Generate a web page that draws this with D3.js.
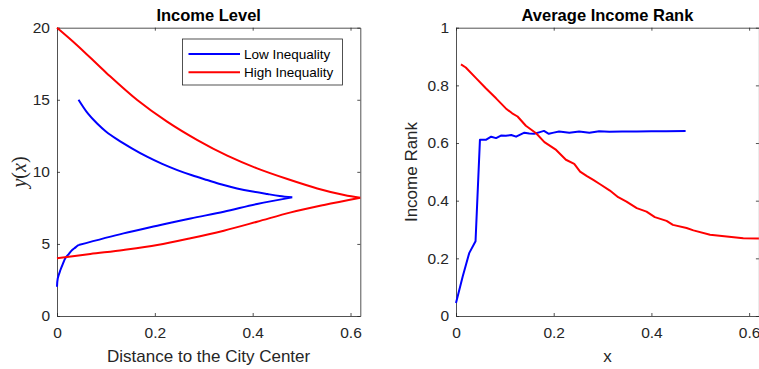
<!doctype html>
<html>
<head>
<meta charset="utf-8"/>
<script src="https://cdnjs.cloudflare.com/ajax/libs/d3/7.8.5/d3.min.js"></script>
<style>
  body { margin: 0; background: #fff; }
  svg { display: block; font-family: "Liberation Sans", Arial, Helvetica, sans-serif; }
  .axis text { fill: #262626; font-size: 15.5px; }
  .axis path, .axis line { stroke: #262626; stroke-width: 0.8; }
</style>
</head>
<body>
<svg id="chart" width="759" height="369"></svg>
<script>
// ---- data ----
var xTicks = [0, 0.2, 0.4, 0.6];
var levelTicks = [0, 5, 10, 15, 20];
var rankTicks = [0, 0.2, 0.4, 0.6, 0.8, 1];
var seriesNames = ["Low Inequality", "High Inequality"];
var seriesColors = ["#0000ff", "#ff0000"];

// income level: x = distance, y = income (path order)
var lowLevelX = [0, 0.0015, 0.007, 0.012, 0.017, 0.024, 0.031, 0.038, 0.044, 0.136, 0.205, 0.273, 0.341, 0.409, 0.481,
                 0.455, 0.43, 0.4, 0.368, 0.337, 0.307, 0.276, 0.246, 0.215, 0.184, 0.153, 0.123, 0.1, 0.082, 0.063, 0.044];
var lowLevelY = [2.03, 2.6, 3.19, 3.62, 4.0, 4.3, 4.58, 4.76, 4.92, 5.73, 6.26, 6.77, 7.23, 7.77, 8.23,
                 8.33, 8.46, 8.63, 8.85, 9.12, 9.43, 9.76, 10.12, 10.55, 11.05, 11.63, 12.25, 12.8, 13.35, 14.05, 15.0];
var lowLevelKinks = [8, 14];   // indices where the curve has a corner
var highLevelX = [0, 0.068, 0.136, 0.205, 0.273, 0.341, 0.409, 0.478, 0.546, 0.62,
                  0.587, 0.532, 0.471, 0.409, 0.348, 0.287, 0.225, 0.164, 0.102, 0.041, 0];
var highLevelY = [4.0, 4.3, 4.58, 4.92, 5.39, 5.92, 6.54, 7.19, 7.7, 8.2,
                  8.39, 8.85, 9.5, 10.24, 11.12, 12.2, 13.48, 14.98, 16.83, 18.79, 20];
var highLevelKinks = [9];

// average income rank
var lowRankX = [0, 0.0137, 0.027, 0.040, 0.049, 0.061, 0.072, 0.082, 0.092, 0.102, 0.113, 0.123, 0.14, 0.15, 0.16,
                0.17, 0.18, 0.19, 0.2, 0.211, 0.232, 0.252, 0.273, 0.293, 0.314, 0.34, 0.37, 0.4, 0.43, 0.47];
var lowRankY = [0.045, 0.137, 0.218, 0.259, 0.611, 0.611, 0.622, 0.617, 0.626, 0.625, 0.628, 0.622, 0.636, 0.633, 0.632,
                0.637, 0.642, 0.632, 0.636, 0.64, 0.636, 0.64, 0.636, 0.641, 0.639, 0.64, 0.64, 0.641, 0.641, 0.642];
var highRankX = [0.0102, 0.02, 0.041, 0.061, 0.082, 0.102, 0.115, 0.126, 0.143, 0.164, 0.181, 0.205, 0.225, 0.242, 0.254,
                 0.268, 0.281, 0.295, 0.315, 0.332, 0.349, 0.37, 0.39, 0.407, 0.431, 0.444, 0.472, 0.486, 0.52, 0.554, 0.588, 0.62];
var highRankY = [0.873, 0.862, 0.825, 0.79, 0.755, 0.72, 0.703, 0.692, 0.66, 0.634, 0.603, 0.576, 0.542, 0.528, 0.501,
                 0.485, 0.472, 0.457, 0.435, 0.412, 0.397, 0.374, 0.362, 0.343, 0.33, 0.316, 0.305, 0.297, 0.282, 0.276, 0.27, 0.269];

var svg = d3.select("#chart");
svg.append("rect").attr("width", 759).attr("height", 369).attr("fill", "#fff");

function zip(xs, ys) { return xs.map(function(v, i) { return [v, ys[i]]; }); }

// split a point list at corner indices so each piece can be smoothed separately
function pieces(pts, kinks) {
  var cuts = [0].concat(kinks || [], [pts.length - 1]), out = [];
  for (var i = 0; i < cuts.length - 1; i++) out.push(pts.slice(cuts[i], cuts[i + 1] + 1));
  return out;
}

function panel(opt) {
  var x = d3.scaleLinear().domain([0, 0.62]).range([opt.left, opt.right]);
  var y = d3.scaleLinear().domain(opt.yDomain).range([316, 27.7]);
  var g = svg.append("g");

  g.append("g").attr("class", "axis").attr("transform", "translate(0,316)")
    .call(d3.axisBottom(x).tickValues(xTicks).tickSize(-3).tickSizeOuter(0).tickPadding(11).tickFormat(d3.format("")));
  g.append("g").attr("class", "axis").attr("transform", "translate(0,27.7)")
    .call(d3.axisTop(x).tickValues(xTicks).tickSize(-3).tickSizeOuter(0).tickFormat(""));
  g.append("g").attr("class", "axis").attr("transform", "translate(" + opt.left + ",0)")
    .call(d3.axisLeft(y).tickValues(opt.yTicks).tickSize(-3).tickSizeOuter(0).tickPadding(7).tickFormat(d3.format("")));
  g.append("g").attr("class", "axis").attr("transform", "translate(" + opt.right + ",0)")
    .call(d3.axisRight(y).tickValues(opt.yTicks).tickSize(-3).tickSizeOuter(0).tickFormat(""));

  var line = d3.line().curve(opt.smooth ? d3.curveCatmullRom.alpha(0.5) : d3.curveLinear)
    .x(function(d) { return x(d[0]); }).y(function(d) { return y(d[1]); });
  opt.series.forEach(function(s, i) {
    var d = pieces(s, opt.kinks ? opt.kinks[i] : null).map(function(p) { return line(p); }).join("");
    g.append("path").attr("d", d)
      .attr("fill", "none").attr("stroke", seriesColors[i]).attr("stroke-width", 2)
      .attr("stroke-linejoin", "round");
  });

  var cx = (opt.left + opt.right) / 2;
  g.append("text").attr("x", cx).attr("y", 20.5).attr("text-anchor", "middle")
    .attr("font-weight", "bold").attr("font-size", "16.5px").attr("fill", "#000").text(opt.title);
  g.append("text").attr("x", cx).attr("y", 362).attr("text-anchor", "middle")
    .attr("font-size", "17px").attr("fill", "#262626").text(opt.xLabel);
  return { x: x, y: y, g: g };
}

var left = panel({
  left: 57, right: 360.3, yDomain: [0, 20], yTicks: levelTicks,
  title: "Income Level", xLabel: "Distance to the City Center", smooth: true,
  series: [zip(lowLevelX, lowLevelY), zip(highLevelX, highLevelY)],
  kinks: [lowLevelKinks, highLevelKinks]
});
var right = panel({
  left: 456, right: 758.9, yDomain: [0, 1], yTicks: rankTicks,
  title: "Average Income Rank", xLabel: "x",
  series: [zip(lowRankX, lowRankY), zip(highRankX, highRankY)]
});

// y labels
var yl = svg.append("text").attr("transform", "translate(26,172) rotate(-90)")
  .attr("text-anchor", "middle").attr("font-family", "'Liberation Serif', 'Times New Roman', serif")
  .attr("font-size", "20px").attr("fill", "#262626");
yl.append("tspan").attr("font-style", "italic").text("y");
yl.append("tspan").text("(");
yl.append("tspan").attr("font-style", "italic").text("x");
yl.append("tspan").text(")");

svg.append("text").attr("transform", "translate(417,172) rotate(-90)")
  .attr("text-anchor", "middle").attr("font-size", "17px").attr("fill", "#262626").text("Income Rank");

// legend
var lg = svg.append("g").attr("transform", "translate(182.5,39)");
lg.append("rect").attr("width", 160).attr("height", 46)
  .attr("fill", "#fff").attr("stroke", "#262626").attr("stroke-width", 0.8);
seriesNames.forEach(function(name, i) {
  var yy = 15 + i * 18.3;
  lg.append("line").attr("x1", 6).attr("x2", 57.5).attr("y1", yy).attr("y2", yy)
    .attr("stroke", seriesColors[i]).attr("stroke-width", 2);
  lg.append("text").attr("x", 61.5).attr("y", yy).attr("dy", "0.35em")
    .attr("font-size", "13.5px").attr("fill", "#000").text(name);
});
</script>
</body>
</html>
